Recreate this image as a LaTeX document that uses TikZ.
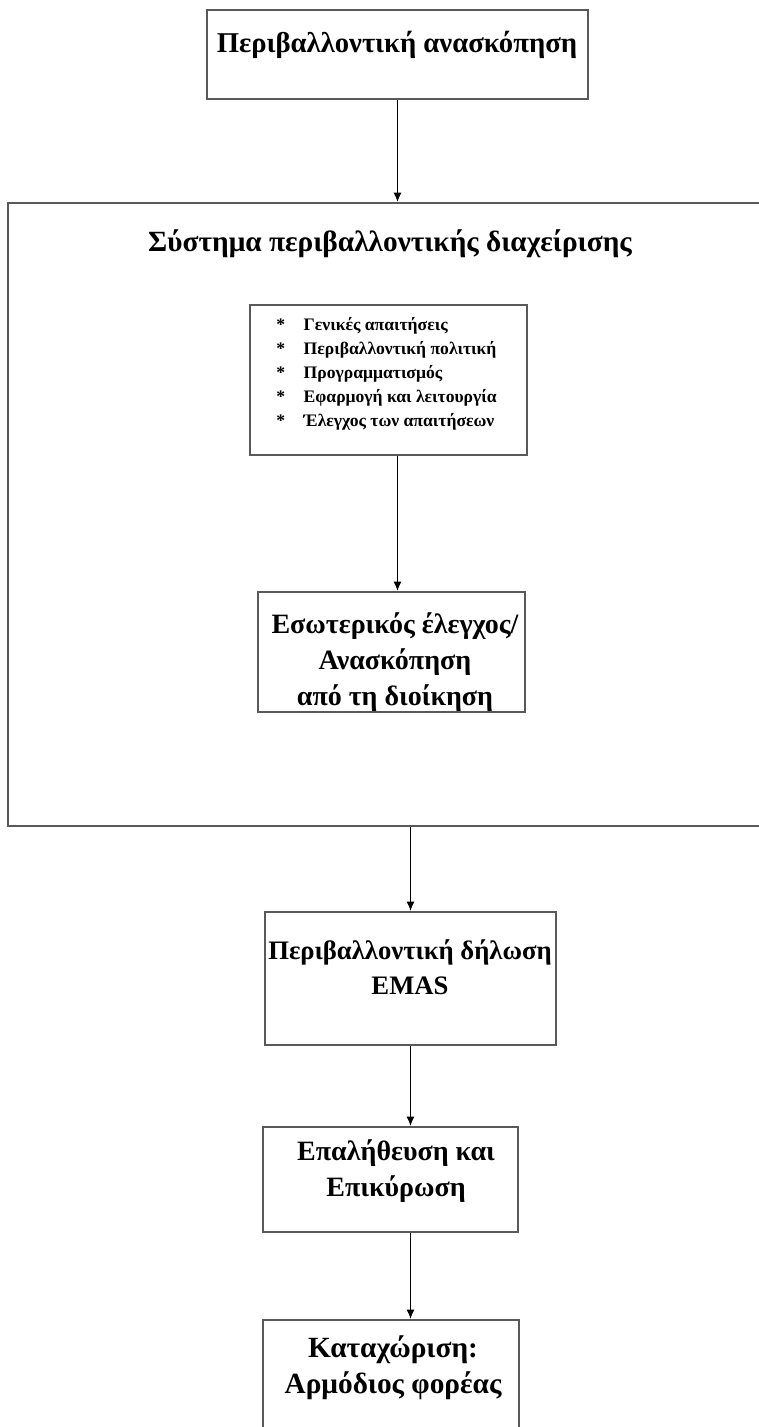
\documentclass[tikz,border=0pt]{standalone}
\usepackage{fontspec}
\setmainfont{Liberation Serif}
\usetikzlibrary{arrows.meta}

\tikzset{
  caja/.style={draw=black!65, line width=1.5pt, rectangle, inner sep=0pt},
  flecha/.style={line width=1pt, -{Latex[length=7pt,width=6pt]}},
  titulo/.style={font=\fontsize{21}{27}\selectfont\bfseries, align=center, inner sep=0pt},
  lista/.style={font=\fontsize{13.2}{18}\selectfont\bfseries, anchor=north west, inner sep=0pt},
}

\begin{document}
\begin{tikzpicture}[x=0.75pt, y=-0.75pt]
  \useasboundingbox (0,0) rectangle (759,1427);

  % Cajas
  \node[caja, minimum width=285.75pt, minimum height=66.75pt] (review) at (397.5,54.5) {};
  \node[caja, minimum width=586.5pt, minimum height=467.25pt] (sistema) at (399,514.5) {};
  \node[caja, minimum width=207.75pt, minimum height=112.5pt] (requisitos) at (388.5,380) {};
  \node[caja, minimum width=200.25pt, minimum height=90pt] (auditoria) at (391.5,652) {};
  \node[caja, minimum width=218.25pt, minimum height=99.75pt] (declaracion) at (410.5,978.5) {};
  \node[caja, minimum width=191.25pt, minimum height=78.75pt] (verificacion) at (390.5,1179.5) {};
  \node[caja, minimum width=192pt, minimum height=120pt] (registro) at (391,1400) {};

  % Textos
  \node[titulo, font=\fontsize{21.5}{27}\selectfont\bfseries] (t-review) at (397,45) {Περιβαλλοντική ανασκόπηση};
  \node[titulo, font=\fontsize{22}{27}\selectfont\bfseries] (t-sistema) at (390,244) {Σύστημα περιβαλλοντικής διαχείρισης};
  \node[lista] (t-requisitos) at (276,313) {%
    \begin{tabular}{@{}l@{\hspace{14pt}}l@{}}
      {*} & Γενικές απαιτήσεις\\
      {*} & Περιβαλλοντική πολιτική\\
      {*} & Προγραμματισμός\\
      {*} & Εφαρμογή και λειτουργία\\
      {*} & Έλεγχος των απαιτήσεων
    \end{tabular}};
  \node[titulo] (t-auditoria) at (395,662) {Εσωτερικός έλεγχος/\\Ανασκόπηση\\από τη διοίκηση};
  \node[titulo, font=\fontsize{20}{26}\selectfont\bfseries] (t-declaracion) at (410,967) {Περιβαλλοντική δήλωση\\EMAS};
  \node[titulo] (t-verificacion) at (396,1171) {Επαλήθευση και\\Επικύρωση};
  \node[titulo, font=\fontsize{22}{27}\selectfont\bfseries] (t-registro) at (393,1368) {Καταχώριση:\\Αρμόδιος φορέας};

  % Flechas
  \draw[flecha] (review.south) -- (review.south |- sistema.north);
  \draw[flecha] (requisitos.south -| review.south) -- (review.south |- auditoria.north);
  \draw[flecha] (declaracion.north |- sistema.south) -- (declaracion.north);
  \draw[flecha] (declaracion.south) -- (declaracion.south |- verificacion.north);
  \draw[flecha] (verificacion.south -| declaracion.south) -- (declaracion.south |- registro.north);
\end{tikzpicture}
\end{document}
